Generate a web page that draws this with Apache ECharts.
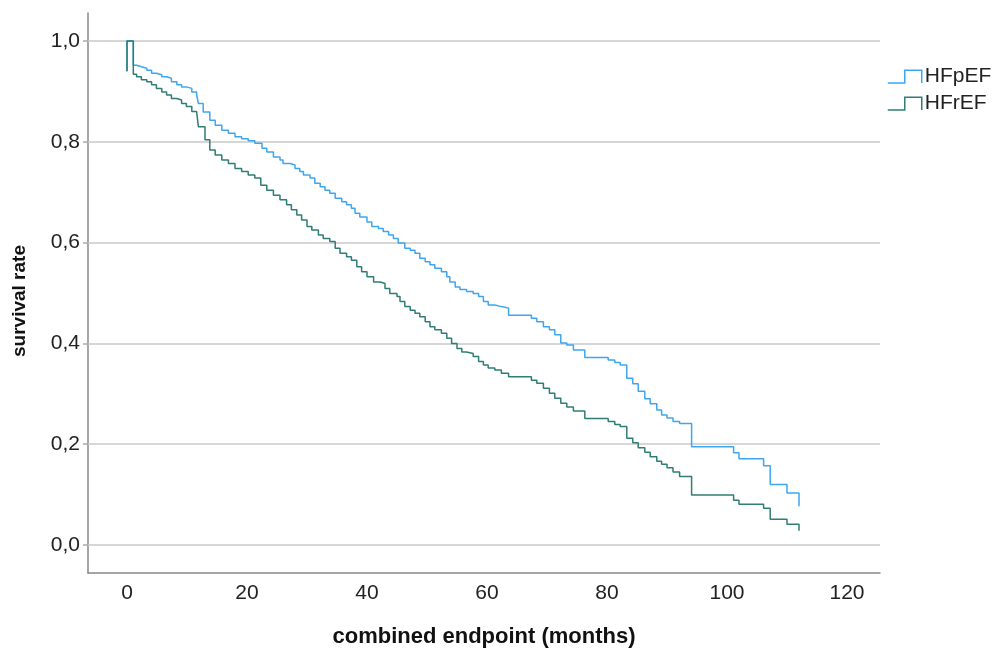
<!DOCTYPE html>
<html>
<head>
<meta charset="utf-8">
<script src="https://cdn.jsdelivr.net/npm/echarts@6/dist/echarts.min.js"></script>
<style>
  html, body { margin: 0; padding: 0; background: #fff; }
  #chart { width: 996px; height: 652px; }
</style>
</head>
<body>
<div id="chart"></div>
<script>
// Kaplan-Meier steps (months, survival after the step)
let hfpefMonths = [
  0, 0, 1.05, 1.6, 2.4, 3.3, 4.1, 4.9, 5.8, 6.6,
  7.4, 8.3, 9.1, 9.9, 10.8, 11.6, 11.9, 12.7, 13.8, 14.7,
  15.8, 16.9, 18, 19.1, 20.2, 21.3, 22.5, 23.3, 24.4, 25.5,
  26, 27.2, 28, 28.8, 29.4, 30.5, 31.3, 32.2, 33, 33.8,
  34.7, 35.8, 36.6, 37.4, 38, 38.8, 40, 40.8, 41.9, 42.7,
  43.6, 44.4, 45.2, 46.3, 47.2, 48, 48.8, 49.7, 50.5, 51.3,
  52.4, 53.3, 53.8, 54.7, 55.5, 56.6, 57.7, 58.6, 59.4, 60.2,
  61.3, 62.4, 63.6, 67.4, 68.3, 69.4, 70.4, 71.3, 72.3, 73.3,
  74.4, 76.3, 80.2, 81.3, 82.2, 83.3, 84.3, 85.2, 86.3, 87.2,
  88.3, 89.1, 90, 91, 92.1, 94.1, 101.1, 102, 106.1, 107.2,
  110, 112
];
let hfpefSurvival = [
  0.94, 1.0, 0.952, 0.949, 0.946, 0.942, 0.936, 0.933, 0.929, 0.926,
  0.919, 0.913, 0.909, 0.906, 0.899, 0.894, 0.876, 0.859, 0.843, 0.833,
  0.823, 0.817, 0.810, 0.806, 0.802, 0.797, 0.787, 0.780, 0.770, 0.764,
  0.757, 0.754, 0.747, 0.741, 0.734, 0.728, 0.718, 0.711, 0.704, 0.698,
  0.688, 0.681, 0.675, 0.668, 0.658, 0.651, 0.641, 0.632, 0.628, 0.622,
  0.615, 0.608, 0.599, 0.589, 0.585, 0.579, 0.569, 0.562, 0.556, 0.549,
  0.542, 0.532, 0.522, 0.512, 0.507, 0.503, 0.499, 0.493, 0.483, 0.476,
  0.473, 0.470, 0.456, 0.450, 0.443, 0.433, 0.427, 0.417, 0.401, 0.397,
  0.387, 0.372, 0.367, 0.362, 0.357, 0.331, 0.320, 0.305, 0.290, 0.280,
  0.268, 0.258, 0.252, 0.245, 0.241, 0.195, 0.183, 0.171, 0.157, 0.120,
  0.103, 0.077
];
let hfrefMonths = [
  0, 0, 1.05, 1.6, 2.4, 3.3, 4.1, 4.9, 5.8, 6.6,
  7.4, 8.3, 9.1, 9.9, 10.8, 11.6, 11.9, 13, 13.8, 14.7,
  15.8, 16.9, 18, 19.1, 20.2, 21.3, 22.3, 23.3, 24.4, 25.5,
  26.6, 27.4, 28.3, 29.1, 30, 30.8, 31.9, 32.7, 33.8, 34.7,
  35.5, 36.6, 37.4, 38.3, 39.1, 40, 41.1, 42.2, 43, 43.8,
  45, 45.5, 46.3, 47.2, 48, 48.8, 49.7, 50.5, 51.3, 52.4,
  53.3, 54.1, 55, 55.8, 56.6, 57.7, 58.6, 59.4, 60.2, 61.3,
  62.4, 63.6, 67.4, 68.3, 69.4, 70.4, 71.3, 72.3, 73.3, 74.4,
  76.3, 80.2, 81.3, 82.2, 83.3, 84.3, 85.2, 86.3, 87.2, 88.3,
  89.1, 90, 91, 92.1, 94.1, 101.1, 102, 106.1, 107.2, 110,
  112
];
let hfrefSurvival = [
  0.94, 1.0, 0.934, 0.929, 0.923, 0.919, 0.913, 0.906, 0.899, 0.893,
  0.886, 0.883, 0.876, 0.870, 0.860, 0.857, 0.830, 0.804, 0.784, 0.774,
  0.764, 0.757, 0.747, 0.741, 0.734, 0.728, 0.714, 0.704, 0.694, 0.685,
  0.675, 0.665, 0.655, 0.645, 0.632, 0.625, 0.615, 0.608, 0.602, 0.589,
  0.579, 0.572, 0.565, 0.552, 0.542, 0.532, 0.522, 0.519, 0.509, 0.499,
  0.493, 0.483, 0.473, 0.466, 0.460, 0.453, 0.443, 0.433, 0.427, 0.420,
  0.410, 0.400, 0.390, 0.383, 0.380, 0.374, 0.364, 0.357, 0.351, 0.347,
  0.341, 0.334, 0.327, 0.321, 0.311, 0.301, 0.291, 0.281, 0.274, 0.266,
  0.251, 0.245, 0.239, 0.235, 0.212, 0.203, 0.193, 0.184, 0.175, 0.166,
  0.160, 0.153, 0.145, 0.136, 0.099, 0.089, 0.081, 0.073, 0.051, 0.041,
  0.028
];
let xTicks = [0, 20, 40, 60, 80, 100, 120];
let yTicks = [0, 0.2, 0.4, 0.6, 0.8, 1.0];

let blue = '#3ea6f0';
let teal = '#2f7d74';

function pairs(xs, ys) {
  return xs.map((x, i) => [x, ys[i]]);
}

let chart = echarts.init(document.getElementById('chart'));
let font = 'Liberation Sans, Arial, sans-serif';
let option = {
  animation: false,
  textStyle: { fontFamily: font },
  grid: { left: 88, right: 116, top: 13, bottom: 79, outerBoundsMode: 'none' },
  legend: {
    orient: 'vertical',
    left: 882,
    top: 61,
    itemWidth: 34,
    itemHeight: 13,
    itemGap: 6,
    icon: 'path://M0,12 L16,12 L16,0 L32,0 L32,12',
    textStyle: { fontSize: 21, color: '#222', padding: [0, 0, 0, -2] },
    data: [
      { name: 'HFpEF', itemStyle: { color: 'transparent', borderColor: blue, borderWidth: 1.5 } },
      { name: 'HFrEF', itemStyle: { color: 'transparent', borderColor: teal, borderWidth: 1.5 } }
    ]
  },
  xAxis: {
    type: 'value',
    min: -6.5,
    max: 125.5,
    name: 'combined endpoint (months)',
    nameLocation: 'middle',
    nameGap: 53,
    nameTextStyle: { fontSize: 22, fontWeight: 'bold', color: '#111' },
    axisLine: { onZero: false, lineStyle: { color: '#888', width: 1.5 } },
    axisTick: { show: false },
    axisLabel: { customValues: xTicks, fontSize: 21, color: '#222', margin: 10 },
    splitLine: { show: false }
  },
  yAxis: {
    type: 'value',
    min: -0.0556,
    max: 1.0556,
    name: 'survival rate',
    nameLocation: 'middle',
    nameGap: 59,
    nameTextStyle: { fontSize: 19, fontWeight: 'bold', color: '#111', padding: [0, 16, 0, 0] },
    axisLine: { show: true, onZero: false, lineStyle: { color: '#888', width: 1.5 } },
    axisTick: { show: true, customValues: yTicks, length: 5, lineStyle: { color: '#aaa', width: 1.5 } },
    axisLabel: {
      customValues: yTicks,
      fontSize: 21,
      color: '#222',
      margin: 8,
      formatter: v => v.toFixed(1).replace('.', ',')
    },
    splitLine: { show: false }
  },
  series: [
    {
      name: 'HFpEF',
      type: 'line',
      step: 'end',
      showSymbol: false,
      z: 3,
      color: blue,
      lineStyle: { width: 1.5 },
      data: pairs(hfpefMonths, hfpefSurvival),
      markLine: {
        silent: true,
        symbol: ['none', 'none'],
        label: { show: false },
        z: 1,
        lineStyle: { color: '#c8c8c8', type: 'solid', width: 1.5 },
        data: yTicks.map(v => ({ yAxis: v }))
      }
    },
    {
      name: 'HFrEF',
      type: 'line',
      step: 'end',
      showSymbol: false,
      z: 4,
      color: teal,
      lineStyle: { width: 1.5 },
      data: pairs(hfrefMonths, hfrefSurvival)
    }
  ]
};
chart.setOption(option);
</script>
</body>
</html>
